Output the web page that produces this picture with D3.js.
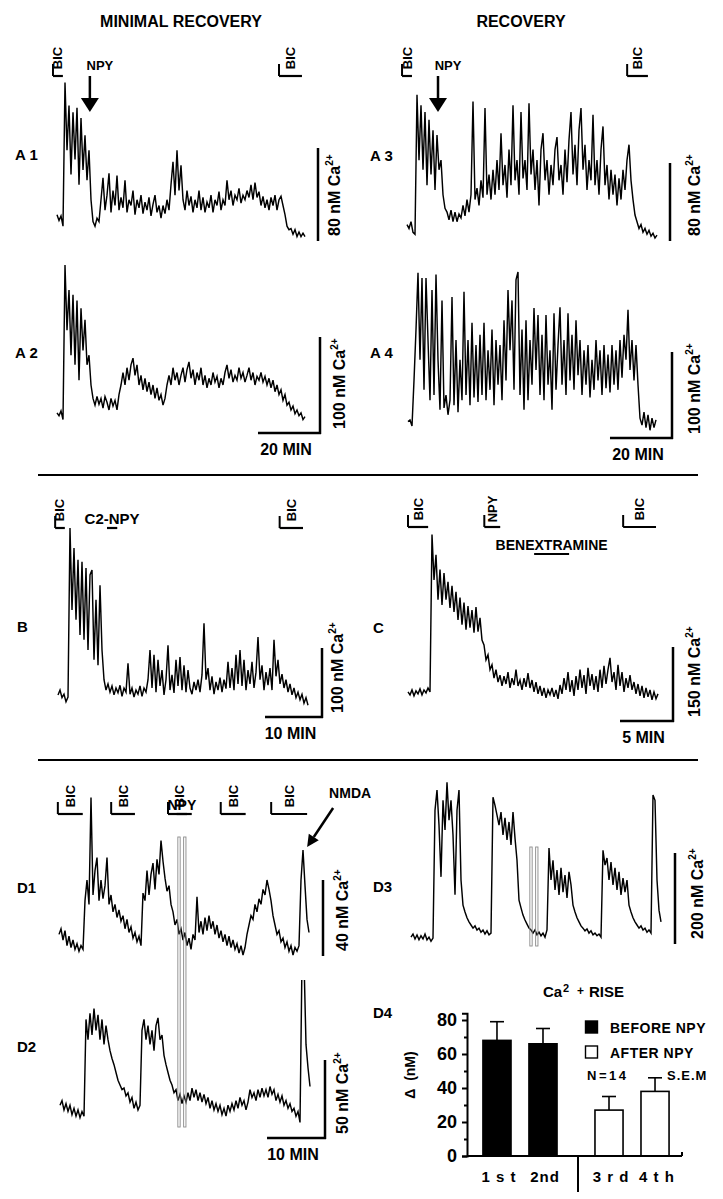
<!DOCTYPE html>
<html>
<head>
<meta charset="utf-8">
<title>NPY and bicuculline Ca2+ recordings</title>
<script src="https://cdn.jsdelivr.net/npm/d3@7"></script>
<style>
  body { margin: 0; background: #fff; }
  svg text { font-family: "Liberation Sans", Arial, Helvetica, sans-serif; font-weight: bold; fill: #000; }
</style>
</head>
<body>
<div id="vis"></div>
<script>
// Traces: Ca2+ rise in nM above the lowest level, one value per sample
const a1Values = [22,17,21,12,137,78,117,57,111,70,115,48,106,61,91,52,78,35,16,12,19,16,
  35,54,26,39,58,24,43,30,56,26,37,28,52,24,35,30,43,22,35,28,39,23,33,26,37,21,31,39,24,30,19,30,23,35,26,
  48,68,39,78,43,65,35,
  26,43,30,38,24,35,28,43,26,37,24,33,28,39,24,35,30,42,26,35,30,
  52,35,43,30,39,35,45,32,39,35,43,37,48,35,50,37,42,
  30,38,28,35,26,37,30,39,26,35,38,30,
  22,12,9,10,5,9,3,7,3,6,3];

const a2Values = [21,18,23,14,175,107,149,81,144,71,138,55,130,86,118,71,81,50,36,29,
  38,30,36,26,38,32,24,36,28,34,24,40,50,63,50,68,55,71,78,60,
  71,50,60,45,57,43,53,40,50,36,47,34,40,29,36,50,60,50,68,55,
  63,50,60,68,53,66,74,57,66,50,63,55,68,50,60,47,57,50,63,53,
  59,47,57,50,63,71,57,66,53,60,55,68,57,63,53,60,68,55,63,50,
  59,55,63,53,59,50,57,47,55,43,50,40,45,34,40,29,32,24,28,20,
  24,18,21,14,17];

const a3Values = [16,12,19,8,6,151,83,140,73,133,57,125,68,114,52,109,73,83,47,33,
  29,21,31,19,29,19,27,23,36,25,42,29,47,144,42,54,36,62,44,137,
  47,68,42,73,47,83,52,111,57,78,44,94,57,140,62,83,47,133,64,83,
  52,142,68,94,52,83,36,94,111,62,83,47,78,57,94,107,62,78,47,94,
  60,104,133,68,99,57,114,137,73,99,52,83,62,130,57,83,47,94,118,57,
  78,42,73,47,68,36,64,42,73,52,83,99,62,42,26,19,12,16,8,12,
  6,10,4,7,2,5];

const a4Values = [19,21,14,67,126,192,91,186,56,186,114,44,172,50,190,91,33,160,35,50,
  27,44,164,38,114,30,91,44,170,50,114,38,134,47,108,42,120,50,134,44,
  102,56,126,38,114,62,108,44,137,67,172,102,160,56,184,193,50,126,33,137,
  44,114,62,151,79,143,50,120,44,143,62,102,33,145,56,108,152,62,114,50,
  145,67,120,56,137,73,114,50,102,62,108,47,91,56,114,67,102,50,108,58,
  97,53,108,62,102,56,114,70,120,91,149,79,114,67,108,62,23,15,30,12,
  27,9,23,12,21];

const bValues = [32,39,28,33,22,29,274,155,245,141,228,119,225,112,216,97,206,213,83,170,
  75,191,97,54,39,48,36,45,32,42,35,46,30,42,36,78,33,42,29,39,
  33,45,30,42,36,54,97,42,90,36,83,45,68,32,54,104,39,61,35,83,
  45,87,39,75,36,68,42,33,51,39,54,36,61,136,54,71,39,59,33,51,
  39,57,36,54,41,80,42,71,39,90,48,97,45,83,39,68,48,80,42,65,
  116,54,75,39,65,46,71,39,112,59,83,48,62,42,54,36,48,32,42,28,
  36,25,33,20,28,17];

const cValues = [59,53,63,51,61,55,65,53,63,57,67,59,378,286,337,246,307,235,300,246,
  282,229,274,221,262,205,250,195,240,185,233,189,225,179,231,181,209,164,154,124,
  134,104,114,87,104,79,93,71,91,75,99,67,87,73,104,71,83,63,87,69,
  97,67,83,59,79,55,71,51,67,47,63,53,67,49,63,45,73,55,87,63,
  99,59,83,51,91,63,104,67,93,55,108,71,95,63,91,59,104,67,112,75,
  104,128,79,99,63,114,71,99,59,87,67,93,63,79,55,75,51,71,47,67,
  49,63,43,59,45,55];

const d1Values = [11,14,8,13,5,10,4,8,3,6,2,5,3,29,40,27,84,32,45,52,
  29,40,30,37,52,27,32,23,27,20,24,18,21,14,19,12,15,9,12,7,
  10,5,33,29,45,32,43,49,35,51,43,61,50,41,34,37,27,23,16,19,
  11,14,8,12,5,9,3,11,8,31,12,18,11,20,13,21,14,18,11,16,
  9,13,7,11,5,10,4,8,3,6,1,5,0,4,11,16,21,19,27,23,
  30,27,35,32,40,35,29,21,16,11,13,7,9,4,7,2,5,0,4,2,
  5,40,56,37,19,12];

const d2Values = [21,24,18,22,17,21,15,19,14,18,13,17,14,76,63,80,66,83,69,79,
  63,76,60,72,63,56,51,47,42,37,34,31,32,27,29,23,26,19,23,18,
  21,69,76,63,72,60,69,56,72,77,63,66,53,47,42,37,34,29,31,24,
  28,22,27,23,29,24,32,26,31,24,29,23,28,22,26,19,24,18,22,17,
  21,15,19,14,21,17,22,18,24,19,26,21,24,18,23,31,26,29,24,31,
  26,32,27,31,26,33,28,31,24,28,23,27,21,24,19,22,17,19,14,17,
  10,114,114,60,45,33];

const d3Values = [13,20,9,18,7,16,9,20,7,13,4,11,295,340,262,147,317,251,357,273,
  317,240,107,295,340,140,84,69,56,47,40,33,38,29,33,24,29,20,27,18,
  22,324,306,284,262,291,240,278,229,269,218,291,233,184,95,78,62,51,42,33,
  29,22,29,18,24,16,22,13,29,211,140,184,118,162,107,167,113,151,100,158,
  129,84,69,56,47,38,33,27,31,22,27,18,22,16,20,13,206,173,189,140,
  180,129,167,118,158,107,144,113,140,84,69,56,47,40,33,38,29,33,24,29,
  22,329,317,140,73,47];

// Drug applications, in minutes on each trace's time axis
const a1Markers = [{label: "BIC", t: [-1.3, 1.9]}, {label: "BIC", t: [71.6, 79.0]}];
const a3Markers = [{label: "BIC", t: [-1.6, 1.6]}, {label: "BIC", t: [71.0, 77.7]}];
const bMarkers = [{label: "BIC", t: [-0.5, 1.2]}, {label: "C2-NPY", t: [8.6, 10.4], flat: true},
  {label: "BIC", t: [38.9, 43.0]}];
const cMarkers = [{label: "BIC", t: [0, 1.9]}, {label: "NPY", t: [7.2, 8.7]}, {label: "BIC", t: [20.3, 23.4]},
  {label: "BENEXTRAMINE", t: [11.9, 15.2], flat: true, row: 1}];
const d1Markers = [{label: "BIC", t: [-0.2, 4.1]}, {label: "BIC", t: [9.0, 13.1]}, {label: "BIC", t: [18.8, 22.9]},
  {label: "BIC", t: [27.9, 32.2]}, {label: "BIC", t: [36.6, 42.8]}, {label: "NPY", t: [20.3, 22.1], flat: true}];
const npyBand = [[20.5, 20.9], [21.5, 21.9]];
const nmdaTime = 42.8;

// D4: Ca2+ rise per BIC application
const riseCats = ["1 s t", "2nd", "3 r d", "4 t h"];
const riseMeans = [68, 66, 27, 38];
const riseSem = [11, 9, 8, 8];
const riseGroup = ["BEFORE NPY", "BEFORE NPY", "AFTER NPY", "AFTER NPY"];
const riseTicks = [0, 20, 40, 60, 80];
const riseMinor = [10, 30, 50, 70];

const width = 723, height = 1199;
const svg = d3.select("#vis").append("svg").attr("width", width).attr("height", height);
svg.append("rect").attr("width", width).attr("height", height).attr("fill", "#fff");

// Layout of the trace panels
const panels = [
  {id: "A1", values: a1Values, dt: 0.645, xr: [57, 305], floor: 240, nM: 80, barPx: 92, barX: 318, textX: 340, markers: a1Markers, markY: 76, arrow: 10.6},
  {id: "A2", values: a2Values, dt: 0.645, xr: [57, 305], floor: 433, nM: 100, barPx: 96, barX: 320, textX: 345, minutes: 20},
  {id: "A3", values: a3Values, dt: 0.645, xr: [407, 657], floor: 240, nM: 80, barPx: 77, barX: 670, textX: 700, markers: a3Markers, markY: 76, arrow: 10.0},
  {id: "A4", values: a4Values, dt: 0.645, xr: [408, 656], floor: 438, nM: 100, barPx: 86, barX: 672, textX: 700, minutes: 20},
  {id: "B", values: bValues, dt: 0.351, xr: [58, 308], floor: 717, nM: 100, barPx: 69, barX: 322, textX: 343, minutes: 10, markers: bMarkers, markY: 528},
  {id: "C", values: cValues, dt: 0.1887, xr: [408, 658], floor: 721, nM: 150, barPx: 74, barX: 673, textX: 700, minutes: 5, markers: cMarkers, markY: 527},
  {id: "D1", values: d1Values, dt: 0.345, xr: [59, 309], floor: 955, nM: 40, barPx: 75, barX: 323, textX: 348, markers: d1Markers, markY: 814},
  {id: "D2", values: d2Values, dt: 0.345, xr: [60, 310], floor: 1138, nM: 50, barPx: 78, barX: 325, textX: 348, minutes: 10, clipTop: 980},
  {id: "D3", values: d3Values, dt: 0.345, xr: [411, 661], floor: 943, nM: 200, barPx: 90, barX: 675, textX: 703}
];

const panelLabels = [
  {text: "A 1", x: 15, y: 160}, {text: "A 2", x: 15, y: 358}, {text: "A 3", x: 370, y: 161}, {text: "A 4", x: 370, y: 358},
  {text: "B", x: 17, y: 632}, {text: "C", x: 373, y: 633}, {text: "D1", x: 17, y: 893}, {text: "D2", x: 17, y: 1052},
  {text: "D3", x: 373, y: 892}, {text: "D4", x: 373, y: 1018}
];

// Titles
svg.append("text").attr("x", 181).attr("y", 27).attr("text-anchor", "middle").attr("font-size", 16).text("MINIMAL RECOVERY");
svg.append("text").attr("x", 521).attr("y", 27).attr("text-anchor", "middle").attr("font-size", 16).text("RECOVERY");

panelLabels.forEach(l => {
  svg.append("text").attr("x", l.x).attr("y", l.y).attr("font-size", 15).text(l.text);
});

// Separators
[475, 760].forEach(y => {
  svg.append("line").attr("x1", 38).attr("x2", 698).attr("y1", y).attr("y2", y)
    .attr("stroke", "#000").attr("stroke-width", 2);
});

const scales = {};

panels.forEach(p => {
  const n = p.values.length;
  const x = d3.scaleLinear().domain([0, (n - 1) * p.dt]).range(p.xr);
  const y = d3.scaleLinear().domain([0, p.nM]).range([p.floor, p.floor - p.barPx]);
  scales[p.id] = {x, y};

  const line = d3.line().x((d, i) => x(i * p.dt)).y(d => y(d));
  const path = svg.append("path")
    .datum(p.values)
    .attr("d", line)
    .attr("fill", "none")
    .attr("stroke", "#000")
    .attr("stroke-width", 1.45);

  if (p.clipTop) {
    svg.append("clipPath").attr("id", "clip" + p.id)
      .append("rect").attr("x", 0).attr("y", p.clipTop).attr("width", width).attr("height", height - p.clipTop);
    path.attr("clip-path", `url(#clip${p.id})`);
  }

  // Ca2+ scale bar
  svg.append("line")
    .attr("x1", p.barX).attr("x2", p.barX)
    .attr("y1", y(0) + 1).attr("y2", y(p.nM))
    .attr("stroke", "#000").attr("stroke-width", 2.5);
  const t = svg.append("text")
    .attr("transform", `translate(${p.textX},${y(0) - 4}) rotate(-90)`)
    .attr("font-size", 16);
  t.append("tspan").text(`${p.nM} nM Ca`);
  t.append("tspan").attr("font-size", 10).attr("dy", -7).text("2+");

  // Time scale bar
  if (p.minutes) {
    const len = x(p.minutes) - x(0);
    svg.append("line")
      .attr("x1", p.barX - len).attr("x2", p.barX + 1)
      .attr("y1", y(0)).attr("y2", y(0))
      .attr("stroke", "#000").attr("stroke-width", 2.5);
    svg.append("text")
      .attr("x", p.barX - len / 2 - 3).attr("y", y(0) + 22)
      .attr("text-anchor", "middle").attr("font-size", 16)
      .text(`${p.minutes} MIN`);
  }

  // Drug application bars
  (p.markers || []).forEach(m => {
    const x0 = x(m.t[0]), x1 = x(m.t[1]);
    const by = p.markY + (m.row || 0) * 27;
    svg.append("line").attr("x1", x0).attr("x2", x1).attr("y1", by).attr("y2", by)
      .attr("stroke", "#000").attr("stroke-width", 2.2);
    if (m.flat) {
      svg.append("text").attr("x", (x0 + x1) / 2).attr("y", by - 4)
        .attr("text-anchor", "middle")
        .attr("font-size", m.label === "C2-NPY" ? 15 : 14)
        .text(m.label);
    } else {
      svg.append("line").attr("x1", x0).attr("x2", x0).attr("y1", by - 12).attr("y2", by)
        .attr("stroke", "#000").attr("stroke-width", 2);
      svg.append("text")
        .attr("transform", `translate(${(x0 + x1) / 2},${by - 18}) rotate(-90)`)
        .attr("text-anchor", "middle").attr("dominant-baseline", "central")
        .attr("font-size", 13)
        .text(m.label);
    }
  });

  // NPY arrow
  if (p.arrow != null) {
    const ax = x(p.arrow);
    svg.append("line").attr("x1", ax).attr("x2", ax).attr("y1", 76).attr("y2", 100)
      .attr("stroke", "#000").attr("stroke-width", 2.5);
    svg.append("path").attr("d", `M${ax - 9},98L${ax + 9},98L${ax},112Z`).attr("fill", "#000");
    svg.append("text").attr("x", ax + 10).attr("y", 70).attr("text-anchor", "middle")
      .attr("font-size", 13).text("NPY");
  }
});

// NPY application band across D1/D2 and D3
function drawBand(xs, y0, y1) {
  npyBand.forEach(b => {
    svg.append("rect")
      .attr("x", xs(b[0])).attr("width", xs(b[1]) - xs(b[0]))
      .attr("y", y0).attr("height", y1 - y0)
      .attr("fill", "none").attr("stroke", "#8a8a8a").attr("stroke-width", 0.9);
  });
}
drawBand(scales.D1.x, 837, 1127);
drawBand(scales.D3.x, 847, 946);

// NMDA arrow
{
  const tipX = scales.D1.x(nmdaTime), tipY = 847;
  const tailX = tipX + 26, tailY = 808;
  const dx = tipX - tailX, dy = tipY - tailY, L = Math.hypot(dx, dy);
  const ux = dx / L, uy = dy / L;
  const bx = tipX - ux * 12, by = tipY - uy * 12;
  svg.append("line").attr("x1", tailX).attr("y1", tailY).attr("x2", bx).attr("y2", by)
    .attr("stroke", "#000").attr("stroke-width", 2.5);
  svg.append("path")
    .attr("d", `M${tipX},${tipY}L${bx - uy * 6},${by + ux * 6}L${bx + uy * 6},${by - ux * 6}Z`)
    .attr("fill", "#000");
  svg.append("text").attr("x", tipX + 43).attr("y", 798).attr("text-anchor", "middle")
    .attr("font-size", 14).text("NMDA");
}

// ---- D4 bar chart ----
const axisX = 467;
const yBar = d3.scaleLinear().domain([0, 84]).range([1156, 1013.2]);
const xBar = d3.scaleBand().domain(riseCats).range([475, 677]).padding(0.39);
const shift = g => g === "BEFORE NPY" ? -10 : 10;
const center = i => xBar(riseCats[i]) + shift(riseGroup[i]) + xBar.bandwidth() / 2;

const riseTitle = svg.append("text").attr("x", 543).attr("y", 997).attr("font-size", 15);
riseTitle.append("tspan").text("Ca");
riseTitle.append("tspan").attr("x", 563).attr("dy", -5).attr("font-size", 11).text("2");
riseTitle.append("tspan").attr("x", 577).attr("dy", 3).attr("font-size", 12).text("+");
riseTitle.append("tspan").attr("x", 589).attr("dy", 2).text("RISE");

riseCats.forEach((c, i) => {
  const cx = center(i);
  const w = xBar.bandwidth();
  const before = riseGroup[i] === "BEFORE NPY";
  // error bar (upper half)
  svg.append("line").attr("x1", cx).attr("x2", cx)
    .attr("y1", yBar(riseMeans[i])).attr("y2", yBar(riseMeans[i] + riseSem[i]))
    .attr("stroke", "#000").attr("stroke-width", 1.6);
  svg.append("line").attr("x1", cx - 7).attr("x2", cx + 7)
    .attr("y1", yBar(riseMeans[i] + riseSem[i])).attr("y2", yBar(riseMeans[i] + riseSem[i]))
    .attr("stroke", "#000").attr("stroke-width", 1.6);
  svg.append("rect")
    .attr("x", cx - w / 2).attr("width", w)
    .attr("y", yBar(riseMeans[i])).attr("height", yBar(0) - yBar(riseMeans[i]))
    .attr("fill", before ? "#000" : "#fff")
    .attr("stroke", "#000").attr("stroke-width", 1.6);
  svg.append("text").attr("x", cx + 2).attr("y", 1182).attr("text-anchor", "middle")
    .attr("font-size", 15).attr("letter-spacing", 1).text(c);
});

const yAxisG = svg.append("g").attr("transform", `translate(${axisX},0)`)
  .call(d3.axisLeft(yBar).tickValues(riseTicks).tickSize(5).tickSizeOuter(5).tickPadding(5));
yAxisG.selectAll("path, line").attr("stroke", "#000").attr("stroke-width", 2);
yAxisG.selectAll("text").attr("font-size", 18);
svg.append("g").attr("transform", `translate(${axisX},0)`)
  .call(d3.axisLeft(yBar).tickValues(riseMinor).tickSize(3).tickFormat(""))
  .call(g => g.select(".domain").remove())
  .selectAll("line").attr("stroke", "#000").attr("stroke-width", 2);

svg.append("line").attr("x1", axisX).attr("x2", 682).attr("y1", yBar(0)).attr("y2", yBar(0))
  .attr("stroke", "#000").attr("stroke-width", 2);
svg.append("line").attr("x1", 682).attr("x2", 682).attr("y1", yBar(0) - 4).attr("y2", yBar(0))
  .attr("stroke", "#000").attr("stroke-width", 2);
const divX = (center(1) + center(2)) / 2 + 2;
svg.append("line").attr("x1", divX).attr("x2", divX).attr("y1", yBar(0)).attr("y2", 1192)
  .attr("stroke", "#000").attr("stroke-width", 2);

svg.append("text")
  .attr("transform", `translate(415,1075) rotate(-90)`)
  .attr("text-anchor", "middle").attr("font-size", 14)
  .text("\u0394\u00a0\u00a0(nM)");

// Legend
const legendGroups = Array.from(new Set(riseGroup));
legendGroups.forEach((g, i) => {
  const ly = 1021 + i * 25;
  svg.append("rect").attr("x", 585.5).attr("y", ly).attr("width", 12).attr("height", 12)
    .attr("fill", g === "BEFORE NPY" ? "#000" : "#fff").attr("stroke", "#000").attr("stroke-width", 1.4);
  svg.append("text").attr("x", 610).attr("y", ly + 11.5).attr("font-size", 14)
    .attr("letter-spacing", 0.5).text(g);
});
svg.append("text").attr("x", 587).attr("y", 1080).attr("font-size", 13).attr("letter-spacing", 2.5).text("N=14");
svg.append("text").attr("x", 667).attr("y", 1080).attr("font-size", 13).attr("letter-spacing", 1).text("S.E.M");
</script>
</body>
</html>
